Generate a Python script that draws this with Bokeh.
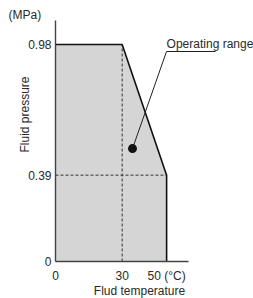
from bokeh.plotting import figure
from bokeh.models import Range1d, FixedTicker, Label
from bokeh.embed import file_html
from bokeh.resources import INLINE

# Data
region_t = [0, 0, 30, 50, 50]          # fluid temperature (°C)
region_p = [0, 0.98, 0.98, 0.39, 0]    # fluid pressure (MPa)
edge_t = [0, 30, 50, 50]
edge_p = [0.98, 0.98, 0.39, 0]
x_ticks = [0, 30, 50]
x_tick_labels = {0: "0", 30: "30", 50: "50 (°C)"}
y_ticks = [0, 0.39, 0.98]
y_tick_labels = {0: "0", 0.39: "0.39", 0.98: "0.98"}
dash_v_t = [30, 30]
dash_v_p = [0, 0.98]
dash_h_t = [0, 50]
dash_h_p = [0.39, 0.39]
dot_t = [34.65]
dot_p = [0.51]
leader_t = [34.65, 49.95, 72.0]
leader_p = [0.51, 0.9485, 0.9485]

FONT = "Liberation Sans"
TXT = "#2a2a2a"

p = figure(width=253, height=298, output_backend="svg", toolbar_location=None,
           x_range=Range1d(-24.75, 89.1), y_range=Range1d(-0.1671, 1.1789),
           min_border=0)
p.title.visible = False
p.outline_line_color = None
p.grid.visible = False
p.background_fill_color = "white"
p.border_fill_color = "white"

p.patch(region_t, region_p, fill_color="#d5d5d5", line_color=None)
p.line(dash_v_t, dash_v_p, line_color="#333333", line_width=1, line_dash="3 2")
p.line(dash_h_t, dash_h_p, line_color="#333333", line_width=1, line_dash="3 2")
p.line(edge_t, edge_p, line_color="#111111", line_width=1.6)
p.line(leader_t, leader_p, line_color="#222222", line_width=1)
p.scatter(dot_t, dot_p, size=9, fill_color="#111111", line_color=None)

for ax in (p.xaxis[0], p.yaxis[0]):
    ax.fixed_location = 0
    ax.major_tick_line_color = None
    ax.minor_tick_line_color = None
    ax.major_tick_out = 0
    ax.major_tick_in = 0
    ax.minor_tick_out = 0
    ax.minor_tick_in = 0
    ax.major_label_text_font = FONT
    ax.major_label_text_font_size = "12px"
    ax.major_label_text_color = TXT
    ax.axis_line_color = "#444444"
    ax.axis_line_width = 1.4

p.xaxis[0].bounds = (0, 60)
p.xaxis[0].ticker = FixedTicker(ticks=x_ticks)
p.xaxis[0].major_label_overrides = x_tick_labels
p.xaxis[0].major_label_standoff = 7
p.yaxis[0].bounds = (0, 1.0885)
p.yaxis[0].ticker = FixedTicker(ticks=y_ticks)
p.yaxis[0].major_label_overrides = y_tick_labels
p.yaxis[0].major_label_standoff = 4

def lab(x, y, text, size="12px", angle=0, align="left", baseline="middle"):
    p.add_layout(Label(x=x, y=y, text=text, text_font=FONT, text_font_size=size,
                       text_color=TXT, angle=angle, angle_units="deg",
                       text_align=align, text_baseline=baseline))

lab(-21.15, 1.1156, "(MPa)")
lab(-13.95, 0.664, "Fluid pressure", angle=90, align="center")
lab(37.8, -0.131, "Flud temperature", align="center")
lab(50.0, 0.951, "Operating range", size="12px", baseline="bottom")

open("out.html", "w").write(file_html(p, INLINE))
